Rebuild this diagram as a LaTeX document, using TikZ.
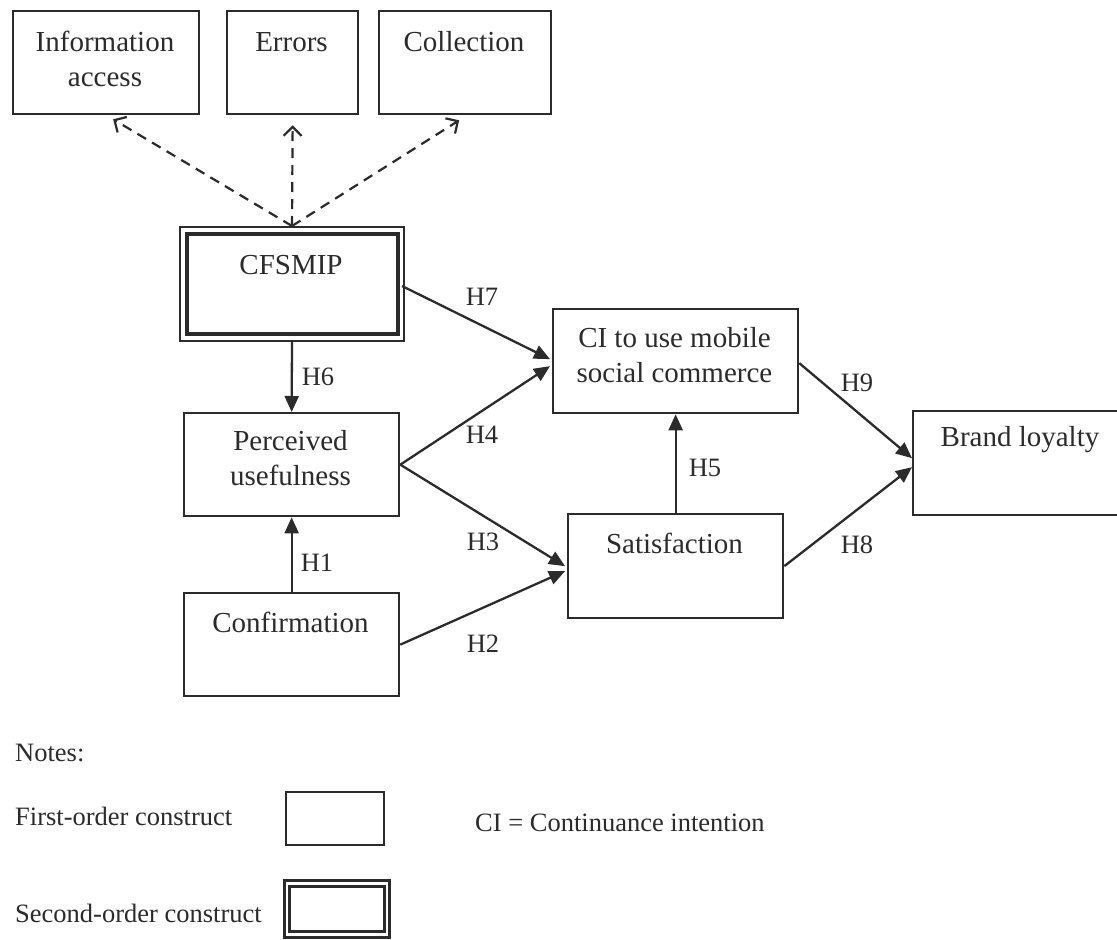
\documentclass[tikz,border=0pt]{standalone}
\usepackage{fontspec}
\setmainfont{Liberation Serif}
\usetikzlibrary{arrows.meta,calc}
\definecolor{ink}{HTML}{2B2B2B}
\begin{document}
\begin{tikzpicture}[x=1pt,y=-1pt,
  every node/.style={font=\fontsize{26.5}{35}\selectfont, text=ink},
  box/.style={draw=ink, line width=2.3pt, anchor=north west, inner sep=0pt},
  thickline/.style={draw=ink, line width=3.4pt},
  txt/.style={align=center, inner sep=0pt, font=\fontsize{29}{35}\selectfont},
  hyp/.style={draw=ink, line width=2.3pt, -{Triangle[length=16pt,width=14pt]}},
  refl/.style={draw=ink, line width=2.2pt, dash pattern=on 10pt off 7pt,
               -{Straight Barb[length=9pt,width=18pt,line width=2.2pt]}},
  hlab/.style={inner sep=0pt},
  note/.style={anchor=west, inner sep=0pt},
]
\useasboundingbox (0,0) rectangle (1117,940);

% indicator constructs
\node[box, minimum width=186pt, minimum height=103pt] (info) at (12,10) {};
\node[box, minimum width=131pt, minimum height=103pt] (err)  at (226,10) {};
\node[box, minimum width=172pt, minimum height=103pt] (coll) at (378,10) {};
\node[txt] (infot) at (105,59) {Information\\access};
\node[txt] (errt)  at (291.5,42) {Errors};
\node[txt] (collt) at (464,42) {Collection};

% second-order construct (double frame)
\node[box, line width=2pt, minimum width=224pt, minimum height=114pt] (cfs) at (179,226) {};
\draw[thickline] ($(cfs.north west)+(8,8)$) rectangle ($(cfs.south east)+(-7,-8)$);
\node[txt] (cfst) at (291,265) {CFSMIP};

% first-order constructs
\node[box, minimum width=215pt, minimum height=103pt] (pu)   at (183,412) {};
\node[box, minimum width=215pt, minimum height=103pt] (conf) at (183,592) {};
\node[box, minimum width=245pt, minimum height=104pt] (ci)   at (552,308) {};
\node[box, minimum width=215pt, minimum height=104pt] (sat)  at (567,513) {};
\node[box, minimum width=215pt, minimum height=104pt] (bl)   at (912,410) {};
\node[txt] (put)   at (290.5,458) {Perceived\\usefulness};
\node[txt] (conft) at (290.5,622) {Confirmation};
\node[txt] (cit)   at (674.5,355) {CI to use mobile\\social commerce};
\node[txt] (satt)  at (674.5,543) {Satisfaction};
\node[txt] (blt)   at (1020,440) {Brand loyalty};

% reflective links to the indicators
\draw[refl] (cfs.north) -- ($(info.south)+(7,4)$);
\draw[refl] (cfs.north) -- ($(err.south)+(0,10)$);
\draw[refl] (cfs.north) -- ($(coll.south)+(-6,5)$);

% hypothesised paths
\draw[hyp] (cfs.south) -- (pu.north);
\draw[hyp] (conf.north) -- (pu.south);
\draw[hyp] ($(cfs.east)+(-3,2)$) -- ($(ci.west)+(-2,-2)$);
\draw[hyp] (pu.east) -- ($(ci.west)+(-2,5)$);
\draw[hyp] (pu.east) -- ($(sat.west)+(-2,0)$);
\draw[hyp] (conf.east) -- ($(sat.west)+(-2,5)$);
\draw[hyp] (sat.north) -- (ci.south);
\draw[hyp] ($(ci.east)+(0,2)$) -- ($(bl.west)+(0,-5)$);
\draw[hyp] (sat.east) -- ($(bl.west)+(0,4)$);

% path labels
\node[hlab] (h7) at (482,297) {H7};
\node[hlab] (h4) at (482,435) {H4};
\node[hlab] (h6) at (318,377) {H6};
\node[hlab] (h1) at (317,563) {H1};
\node[hlab] (h3) at (483,542) {H3};
\node[hlab] (h2) at (483,644) {H2};
\node[hlab] (h5) at (705,468) {H5};
\node[hlab] (h9) at (857,383) {H9};
\node[hlab] (h8) at (857,545) {H8};

% legend
\node[note] (notes) at (15,753) {Notes:};
\node[note] (fo) at (15,816) {First-order construct};
\node[note] (so) at (15,913) {Second-order construct};
\node[note] (cidef) at (475,823) {CI = Continuance intention};
\node[box, minimum width=98pt, minimum height=53pt] (fobox) at (285,791) {};
\node[box, line width=2.6pt, minimum width=105pt, minimum height=57pt] (sobox) at (283,879) {};
\draw[thickline, line width=3pt] ($(sobox.north west)+(6,7)$) rectangle ($(sobox.south east)+(-6,-7)$);
\end{tikzpicture}
\end{document}
